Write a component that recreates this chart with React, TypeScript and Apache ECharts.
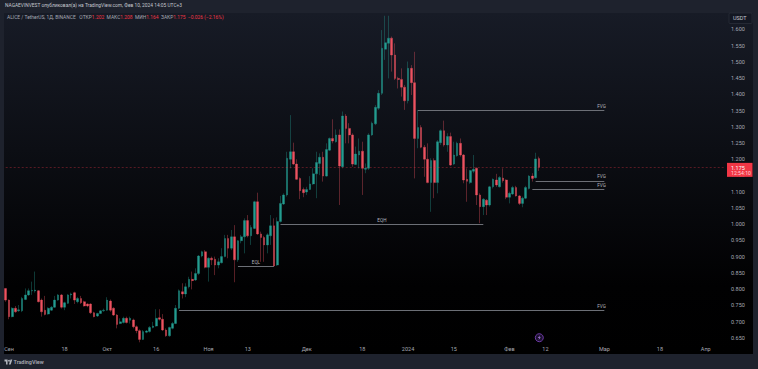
import React, { useEffect, useRef } from "react";
import * as echarts from "echarts";

const opens = [
.802,.766,.715,.741,.733,.733,.768,.782,.794,.794,
.795,.766,.735,.723,.735,.744,.766,.782,.744,.756,
.782,.789,.761,.771,.761,.754,.754,.727,.717,.725,
.733,.735,.763,.741,.720,.694,.697,.710,.704,.705,
.684,.672,.645,.667,.669,.682,.686,.712,.707,.674,
.656,.679,.694,.741,.792,.785,.807,.830,.828,.848,
.902,.915,.867,.895,.892,.874,.881,.900,.956,.926,
.961,.890,.949,.961,1.011,.964,.987,1.069,.970,.959,
.936,.964,.995,.874,1.008,1.062,1.090,1.200,1.223,1.185,
1.141,1.107,1.099,1.107,1.124,1.155,1.187,1.206,1.148,1.228,
1.264,1.254,1.275,1.177,1.333,1.295,1.275,1.184,1.213,1.225,
1.169,1.172,1.275,1.309,1.357,1.403,1.539,1.557,1.573,1.521,
1.449,1.446,1.422,1.380,1.480,1.436,1.264,1.298,1.237,1.200,
1.128,1.196,1.128,1.251,1.288,1.244,1.270,1.185,1.211,1.249,
1.213,1.138,1.128,1.163,1.172,1.090,1.054,1.074,1.059,1.115,
1.136,1.115,1.142,1.136,1.083,1.093,1.113,1.087,1.064,1.080,
1.110,1.148,1.143,1.202];
const closes = [
.766,.715,.741,.730,.736,.771,.782,.795,.796,.797,
.761,.730,.722,.741,.744,.766,.782,.744,.758,.782,
.785,.766,.771,.758,.748,.748,.727,.715,.725,.733,
.735,.766,.735,.720,.691,.699,.710,.697,.710,.684,
.672,.645,.669,.671,.682,.686,.710,.707,.674,.656,
.682,.694,.741,.795,.785,.807,.830,.826,.848,.902,
.915,.867,.895,.890,.874,.884,.900,.956,.926,.961,
.890,.949,.961,1.011,.964,.990,1.069,.970,.959,.936,
.967,.995,.871,1.008,1.064,1.090,1.203,1.223,1.185,1.138,
1.103,1.097,1.107,1.124,1.155,1.190,1.206,1.148,1.230,1.264,
1.256,1.275,1.179,1.333,1.295,1.275,1.185,1.216,1.225,1.172,
1.172,1.275,1.311,1.360,1.403,1.542,1.559,1.573,1.521,1.449,
1.446,1.422,1.380,1.480,1.436,1.264,1.298,1.237,1.200,1.128,
1.196,1.128,1.254,1.288,1.244,1.270,1.182,1.213,1.249,1.213,
1.136,1.132,1.165,1.169,1.090,1.054,1.077,1.059,1.115,1.138,
1.121,1.144,1.134,1.083,1.095,1.113,1.087,1.064,1.080,1.113,
1.148,1.141,1.201,1.175];
const lows = [
.761,.707,.713,.727,.730,.729,.766,.779,.782,.789,
.759,.715,.719,.721,.733,.742,.764,.740,.735,.754,
.771,.754,.756,.754,.746,.744,.723,.713,.714,.723,
.730,.733,.730,.717,.679,.692,.694,.694,.694,.679,
.664,.636,.643,.664,.666,.679,.684,.703,.671,.653,
.653,.676,.692,.738,.771,.775,.802,.799,.825,.843,
.898,.864,.823,.874,.843,.864,.879,.898,.895,.920,
.821,.884,.941,.910,.959,.936,.985,.967,.884,.884,
.910,.936,.869,.871,1.005,1.059,1.085,1.172,1.182,1.136,
1.077,1.083,1.090,1.105,1.121,1.080,1.151,1.131,1.146,1.226,
1.249,1.251,1.059,1.172,1.249,1.249,1.177,1.182,1.172,1.090,
1.157,1.167,1.272,1.305,1.352,1.398,1.506,1.449,1.470,1.444,
1.418,1.393,1.352,1.372,1.398,1.141,1.234,1.234,1.146,1.126,
1.038,1.080,1.095,1.244,1.239,1.223,1.179,1.182,1.208,1.208,
1.126,1.069,1.124,1.157,1.059,1.003,1.028,1.028,1.054,1.110,
1.115,1.113,1.128,1.077,1.064,1.090,1.085,1.059,1.052,1.077,
1.107,1.131,1.141,1.164];
const highs = [
.803,.768,.744,.748,.751,.776,.802,.802,.823,.854,
.797,.771,.779,.744,.748,.779,.785,.785,.761,.785,
.789,.792,.776,.779,.764,.756,.756,.730,.727,.735,
.740,.775,.768,.744,.723,.710,.715,.715,.715,.709,
.688,.676,.674,.674,.686,.699,.738,.738,.723,.679,
.684,.699,.751,.799,.818,.818,.838,.854,.864,.905,
.918,.920,.898,.900,.900,.895,.926,.967,.967,.982,
.997,.951,.967,1.018,1.028,.997,1.072,1.097,.977,.964,
.972,1.028,1.018,1.021,1.087,1.095,1.223,1.336,1.251,1.200,
1.144,1.113,1.115,1.148,1.172,1.223,1.218,1.223,1.249,1.267,
1.323,1.292,1.292,1.347,1.339,1.311,1.280,1.239,1.264,1.254,
1.187,1.280,1.316,1.367,1.413,1.598,1.642,1.642,1.578,1.557,
1.454,1.480,1.429,1.501,1.490,1.531,1.352,1.305,1.244,1.249,
1.203,1.203,1.259,1.292,1.319,1.280,1.282,1.254,1.254,1.264,
1.216,1.172,1.167,1.213,1.175,1.095,1.080,1.077,1.118,1.141,
1.155,1.148,1.172,1.138,1.100,1.118,1.118,1.090,1.085,1.118,
1.151,1.157,1.220,1.208];

const SLOTS = 221;
const categories: string[] = [];
for (let i = 0; i < SLOTS; i++) {
  categories.push(new Date(Date.UTC(2023, 7, 31 + i)).toISOString().slice(0, 10));
}

const timeTicks: Record<string, string> = {
  "2023-09-01": "Сен", "2023-09-18": "18", "2023-10-01": "Окт", "2023-10-16": "16",
  "2023-11-01": "Ноя", "2023-11-13": "13", "2023-12-01": "Дек", "2023-12-18": "18",
  "2024-01-01": "2024", "2024-01-15": "15", "2024-02-01": "Фев", "2024-02-12": "12",
  "2024-03-01": "Мар", "2024-03-18": "18", "2024-04-01": "Апр",
};

// level annotations: label, price, first and last day
const levels: [string, number, string, string][] = [
  ["FVG", 1.35, "2024-01-04", "2024-03-01"],
  ["EQH", 1.0, "2023-11-23", "2024-01-24"],
  ["EQL", 0.869, "2023-11-10", "2023-11-21"],
  ["FVG", 1.1333, "2024-02-09", "2024-03-01"],
  ["FVG", 1.1075, "2024-02-08", "2024-03-01"],
  ["FVG", 0.7345, "2023-10-23", "2024-03-01"],
];

const LAST_PRICE = 1.175;
const FONT = "Roboto, 'Liberation Sans', sans-serif";
const UP = "#239c8f";
const DOWN = "#ee5260";
const RED = "#f23645";

const TV_PATH = "M14 22H7V11H0V4h14v18zM28 22h-8l7.5-18h8L28 22z";

export default function App() {
  const ref = useRef<HTMLDivElement>(null);

  useEffect(() => {
    echarts.graphic.registerShape("tvlogo", echarts.graphic.extendPath(TV_PATH, {}) as any);
    const chart = echarts.init(ref.current!, undefined, { renderer: "svg" });
    const candles = opens.map((o, i) => [o, closes[i], lows[i], highs[i]]);

    const option: any = {
      animation: false,
      backgroundColor: "#1e222d",
      grid: { left: 4.07, top: 13.17, width: 722.93, height: 340.83, containLabel: false },
      xAxis: {
        type: "category",
        data: categories,
        boundaryGap: true,
        axisLine: { show: false },
        axisTick: { show: false },
        splitLine: { show: false },
        axisLabel: {
          inside: true,
          margin: 2.5,
          color: "#a6a9b3",
          fontSize: 5.5,
          fontFamily: FONT,
          hideOverlap: false,
          interval: (_: number, v: string) => v in timeTicks,
          formatter: (v: string) => timeTicks[v] ?? "",
        },
      },
      yAxis: {
        type: "value",
        position: "right",
        min: 0.6,
        max: 1.65,
        interval: 0.05,
        axisLine: { show: false },
        axisTick: { show: false },
        splitLine: { show: false },
        axisLabel: {
          margin: 4,
          color: "#a6a9b3",
          fontSize: 5.5,
          fontFamily: FONT,
          formatter: (v: number) => (v < 0.62 || v > 1.62 ? "" : v.toFixed(3)),
        },
      },
      series: [
        {
          type: "candlestick",
          data: candles,
          barWidth: 2.2,
          itemStyle: {
            color: UP,
            color0: DOWN,
            borderColor: "rgba(35,156,143,0.36)",
            borderColor0: "rgba(238,82,96,0.36)",
            borderWidth: 1,
          },
          markLine: {
            silent: true,
            symbol: "none",
            animation: false,
            data: [
              [
                { xAxis: 0, yAxis: LAST_PRICE },
                { xAxis: SLOTS - 1, yAxis: LAST_PRICE },
              ].map((p) => ({
                ...p,
                lineStyle: { color: "rgba(242,54,69,0.42)", type: [2, 2], width: 0.8 },
                label: { show: false },
              })),
              ...levels.map(([name, price, from, to]) => [
                {
                  coord: [from, price],
                  lineStyle: { color: "#6c6f76", type: "solid", width: 1 },
                  label: {
                    show: true,
                    formatter: name,
                    position: name === "FVG" ? "insideEndTop" : "insideMiddleTop",
                    color: "#b4b7be",
                    fontSize: 4.6,
                    fontFamily: FONT,
                    distance: name === "FVG" ? [-1.5, 1.5] : 1.5,
                  },
                },
                { coord: [to, price] },
              ]),
            ],
          },
        },
      ],
      graphic: [
        {
          type: "rect",
          z: -1,
          silent: true,
          shape: { x: 4, y: 13, width: 749, height: 341 },
          style: {
            fill: new echarts.graphic.LinearGradient(0, 0, 0, 1, [
              { offset: 0, color: "#171b26" },
              { offset: 0.4, color: "#0c0e14" },
              { offset: 0.8, color: "#010102" },
              { offset: 1, color: "#000000" },
            ]),
          },
        },
        {
          type: "text",
          x: 5,
          y: 3.2,
          z: 50,
          style: {
            text: "NAGAEVINVEST опубликовал(а) на TradingView.com, Фев 10, 2024 14:05 UTC+3",
            fill: "#c4c7cf",
            font: `4.85px ${FONT}`,
          },
        },
        {
          type: "text",
          x: 7,
          y: 14.8,
          z: 50,
          style: {
            text: "{g|ALICE / TetherUS, 1Д, BINANCE   ОТКР}{r|1.202}{g|  МАКС}{r|1.208}{g|  МИН}{r|1.164}{g|  ЗАКР}{r|1.175  −0.026 (−2.16%)}",
            font: `4.9px ${FONT}`,
            rich: {
              g: { fill: "#a6a9b3", font: `4.9px ${FONT}` },
              r: { fill: RED, font: `4.9px ${FONT}` },
            },
          },
        },
        {
          type: "rect",
          z: 50,
          shape: { x: 729, y: 13, width: 23, height: 10.5, r: 1 },
          style: { fill: "#131722", stroke: "#2a2e39", lineWidth: 0.8 },
        },
        {
          type: "text",
          x: 733,
          y: 15.2,
          z: 51,
          style: { text: "USDT", fill: "#c4c7cf", font: `5.5px ${FONT}` },
        },
        {
          type: "circle",
          z: 50,
          shape: { cx: 539.3, cy: 337.7, r: 4 },
          style: { fill: "#1d1230", stroke: "#6f3aa8", lineWidth: 1 },
        },
        {
          type: "polygon",
          z: 51,
          shape: { points: [[540, 335.3], [537.8, 338], [539.2, 338], [538.6, 340], [540.8, 337.2], [539.4, 337.2]] },
          style: { fill: "#a77bd9" },
        },
        {
          type: "tvlogo",
          x: 4.5,
          y: 358.5,
          scaleX: 0.22,
          scaleY: 0.27,
          z: 50,
          style: { fill: "#b2b5be" },
        },
        {
          type: "circle",
          z: 50,
          shape: { cx: 9, cy: 360.7, r: 0.9 },
          style: { fill: "#b2b5be" },
        },
        {
          type: "text",
          x: 13.5,
          y: 359,
          z: 50,
          style: { text: "TradingView", fill: "#a6a9b3", font: `600 5.4px ${FONT}` },
        },
      ],
    };
    chart.setOption(option);

    const tagY = chart.convertToPixel({ yAxisIndex: 0 }, LAST_PRICE) as number;
    chart.setOption({
      graphic: [
        ...option.graphic,
        {
          type: "rect",
          z: 90,
          shape: { x: 727, y: tagY - 4.5, width: 25.5, height: 14 },
          style: { fill: RED },
        },
        {
          type: "text",
          x: 731,
          y: tagY - 2.8,
          z: 91,
          style: { text: "1.175", fill: "#ffffff", font: `5.5px ${FONT}` },
        },
        {
          type: "text",
          x: 731,
          y: tagY + 3.2,
          z: 91,
          style: { text: "12:54:10", fill: "#ffd5d8", font: `5.2px ${FONT}` },
        },
      ],
    });
    return () => chart.dispose();
  }, []);

  return (
    <div
      ref={ref}
      style={{ position: "fixed", left: 0, top: 0, width: 758, height: 369 }}
    />
  );
}
